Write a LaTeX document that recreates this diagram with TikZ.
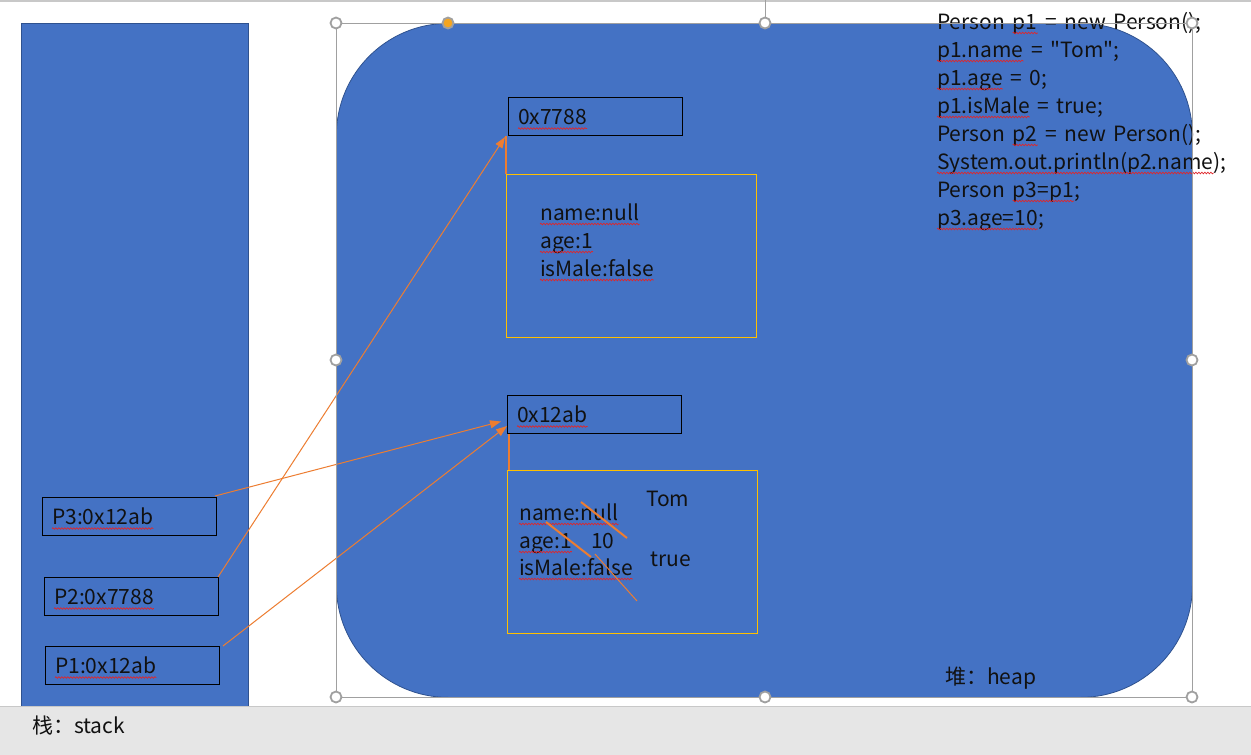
\documentclass[tikz,border=0pt]{standalone}
\usepackage{fontspec}
\setmainfont{Noto Sans CJK SC}[Ligatures=TeXOff, WordSpace=1.6]
\usetikzlibrary{arrows.meta,decorations.pathmorphing}
\definecolor{heapblue}{HTML}{4472C4}
\definecolor{edgeblue}{HTML}{2F528F}
\definecolor{arrorange}{HTML}{ED7D31}
\definecolor{objyellow}{HTML}{FFC000}
\definecolor{barfill}{HTML}{E6E6E6}
\definecolor{barline}{HTML}{C8C8C8}
\definecolor{selgray}{HTML}{A0A0A0}
\definecolor{handleorange}{HTML}{F4A521}
\definecolor{txt}{HTML}{111111}
\definecolor{spellred}{HTML}{E0262A}
\newcommand\spw{7.5pt}
\tikzset{
  lbl/.style={font=\fontsize{21}{24}\selectfont, text=txt, inner sep=0pt, anchor=base west},
  refbox/.style={draw=black, line width=1pt, minimum width=174pt, minimum height=38pt,
    inner sep=0pt, anchor=north west},
  objbox/.style={draw=objyellow, line width=1pt, minimum width=250pt, minimum height=163pt,
    inner sep=0pt, anchor=north west},
  pointer/.style={draw=arrorange, line width=1pt, -{Triangle[length=11pt,width=8pt]}},
  linkline/.style={draw=arrorange, line width=2pt},
  strike/.style={draw=arrorange, line width=2pt},
  handle/.style={circle, draw=selgray, line width=1.8pt, fill=white, minimum size=11pt, inner sep=0pt},
  region/.style={fill=heapblue, draw=edgeblue, line width=0.8pt, inner sep=0pt, anchor=north west},
  wave/.style={draw=spellred, line width=0.7pt, decorate,
    decoration={snake, amplitude=0.8pt, segment length=3pt}},
  wavy/.style={wave, insert path={([yshift=-4pt]#1.base west) -- ([yshift=-4pt]#1.base east)}},
}
\begin{document}
\begin{tikzpicture}[x=1pt,y=-1pt]
  \useasboundingbox (0,0) rectangle (1251,755);
  \fill[white] (0,0) rectangle (1251,755);
  \draw[barline, line width=1.5pt] (0,0.75) -- (1251,0.75);

  % stack region
  \node (stack) [region, minimum width=227pt, minimum height=683pt] at (21,23) {};
  % heap region
  \node (heap) [region, rounded corners=112pt, minimum width=856pt, minimum height=674pt] at (336,23) {};

  % bottom bar
  \fill[barfill] (0,706) rectangle (1251,755);
  \draw[barline, line width=1pt] (0,706) -- (1251,706);
  \node (stacklbl) [lbl] at (32,733) {栈：stack};

  % stack frames
  \node (p3) [refbox] at (42,497) {};
  \node (p3t) [lbl] at ([xshift=10pt,yshift=-8pt]p3.west) {P3:0x12ab};
  \node (p2) [refbox] at (44,577) {};
  \node (p2t) [lbl] at ([xshift=10pt,yshift=-8pt]p2.west) {P2:0x7788};
  \node (p1) [refbox] at (45,646) {};
  \node (p1t) [lbl] at ([xshift=10pt,yshift=-8pt]p1.west) {P1:0x12ab};

  % heap addresses and objects
  \node (ad1) [refbox] at (508,97) {};
  \node (ad1t) [lbl] at ([xshift=10pt,yshift=-8pt]ad1.west) {0x7788};
  \node (obj1) [objbox] at (506,174) {};
  \node (o1n) [lbl] at (540,220) {name:null};
  \node (o1a) [lbl] at (540,248) {age:1};
  \node (o1m) [lbl] at (540,276) {isMale:false};

  \node (ad2) [refbox] at (507,395) {};
  \node (ad2t) [lbl] at ([xshift=10pt,yshift=-8pt]ad2.west) {0x12ab};
  \node (obj2) [objbox] at (507,470) {};
  \node (o2n) [lbl] at (519,520) {name:null};
  \node (o2a) [lbl] at (519,548) {age:1};
  \node (o2m) [lbl] at (519,575) {isMale:false};
  \node (o2ten) [lbl] at (591,548) {10};
  \node (o2tom) [lbl] at (646,506) {Tom};
  \node (o2true) [lbl] at (650,566) {true};

  % code
  \node (c1a) [lbl] at (937,29) {Person};
  \node (c1b) [lbl] at ([xshift=\spw]c1a.base east) {p1};
  \node (c1c) [lbl] at ([xshift=\spw]c1b.base east) {= new Person();};
  \node (c2a) [lbl] at (937,57) {p1.name};
  \node (c2b) [lbl] at ([xshift=\spw]c2a.base east) {= "Tom";};
  \node (c3a) [lbl] at (937,85) {p1.age};
  \node (c3b) [lbl] at ([xshift=\spw]c3a.base east) {= 0;};
  \node (c4a) [lbl] at (937,113) {p1.isMale};
  \node (c4b) [lbl] at ([xshift=\spw]c4a.base east) {= true;};
  \node (c5a) [lbl] at (937,141) {Person};
  \node (c5b) [lbl] at ([xshift=\spw]c5a.base east) {p2};
  \node (c5c) [lbl] at ([xshift=\spw]c5b.base east) {= new Person();};
  \node (c6a) [lbl] at (937,169) {System.out.println(p2.name};
  \node (c6b) [lbl] at (c6a.base east) {);};
  \node (c7a) [lbl] at (937,197) {Person};
  \node (c7b) [lbl] at ([xshift=\spw]c7a.base east) {p3=p1};
  \node (c7c) [lbl] at (c7b.base east) {;};
  \node (c8a) [lbl] at (937,225) {p3.age=10};
  \node (c8b) [lbl] at (c8a.base east) {;};

  \node (heaplbl) [lbl] at (945,684) {堆：heap};

  % spelling marks
  \foreach \n in {p3t,p2t,p1t,ad1t,ad2t,o1n,o1a,o1m,o2n,o2a,o2m,c1b,c2a,c3a,c4a,c5b,c6a,c7b,c8a}
    \path[wavy=\n];

  % strike-outs
  \draw[strike] (581,502) -- (627,538);
  \draw[strike] (546,522) -- (591,557);
  \draw[draw=arrorange, line width=1pt] (595,554) -- (637,601);

  % links address -> object
  \draw[linkline] ([xshift=-2pt]ad1.south west) -- (obj1.north west);
  \draw[linkline] ([xshift=2pt]ad2.south west) -- ([xshift=2pt]obj2.north west);

  % pointers
  \draw[pointer] ([xshift=-2pt,yshift=1pt]p3.north east) -- ([xshift=-6pt,yshift=-7pt]ad2.west);
  \draw[pointer] ([xshift=-1pt]p2.north east) -- ([xshift=-3pt,yshift=-1pt]ad1.south west);
  \draw[pointer] ([xshift=3pt]p1.north east) -- ([yshift=8pt]ad2.south west);

  % selection frame and handles
  \draw[selgray, line width=1pt] (336,23) rectangle (1192,697);
  \draw[selgray, line width=1pt] (765,0) -- (765,17);
  \node (h1) [handle] at (336,23) {};
  \node (h2) [handle] at (765,23) {};
  \node (h3) [handle] at (1192,23) {};
  \node (h4) [handle] at (336,360) {};
  \node (h5) [handle] at (1192,360) {};
  \node (h6) [handle] at (336,697) {};
  \node (h7) [handle] at (765,697) {};
  \node (h8) [handle] at (1192,697) {};
  \node (hadj) [handle, fill=handleorange] at (448,23) {};
\end{tikzpicture}
\end{document}
